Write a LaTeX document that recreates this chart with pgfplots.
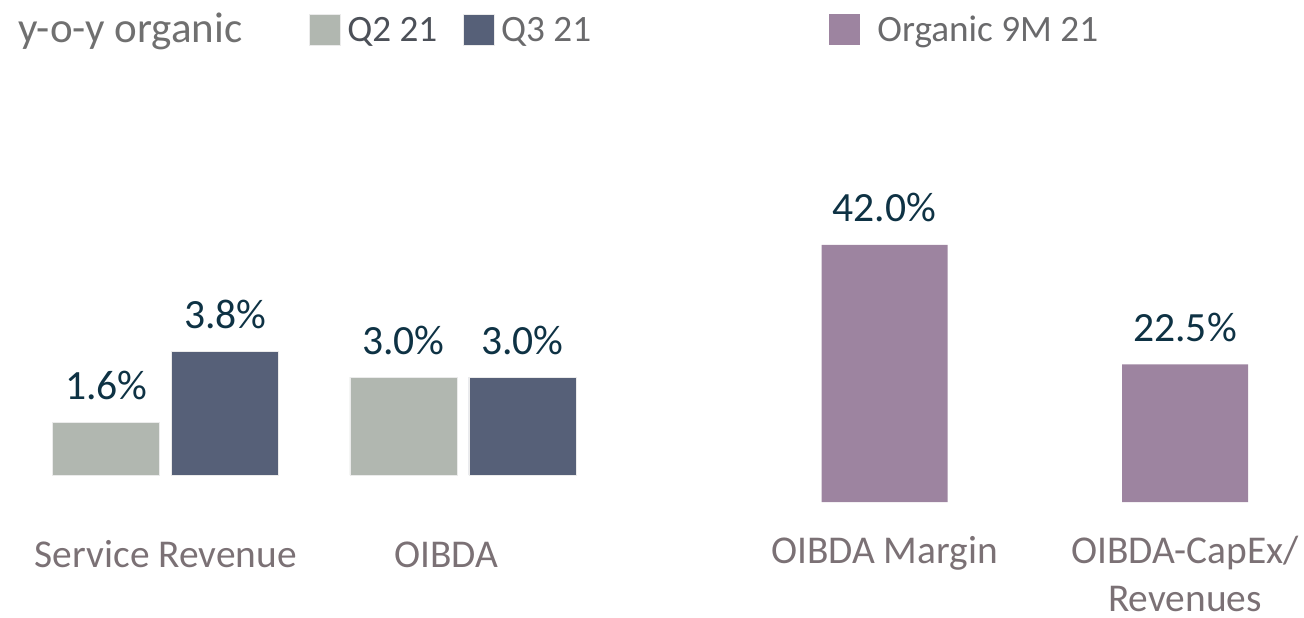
\documentclass[border=0pt]{standalone}
\usepackage{pgfplots}
\pgfplotsset{compat=1.18}
\usepackage{fontspec}
\setmainfont{Carlito}
\definecolor{qtwo}{HTML}{B1B7B0}
\definecolor{qthree}{HTML}{566078}
\definecolor{purp}{HTML}{9D84A0}
\definecolor{valtxt}{HTML}{0E3244}
\definecolor{cattxt}{HTML}{7B7175}
\definecolor{titletxt}{HTML}{707070}
\definecolor{legtxtA}{HTML}{4C5058}
\definecolor{legtxtB}{HTML}{6A6A6C}
\pgfplotsset{
  common/.style={
    scale only axis, axis line style={draw=none}, ymin=0, ytick=\empty,
    major tick length=0pt, clip=false,
    tick label style={font=\fontsize{19.7}{24}\selectfont, text=cattxt},
    xticklabel style={anchor=base, align=center, inner sep=0pt, outer sep=0pt},
    nodes near coords={\pgfmathprintnumber[fixed,fixed zerofill,precision=1,assume math mode=true]{\pgfplotspointmeta}\%},
    every node near coord/.append style={anchor=base, yshift=11.5pt, text=valtxt, font=\fontsize{20.8}{24}\selectfont},
    legend style={draw=none, fill=none, inner sep=0pt, legend columns=-1,
      font=\fontsize{18.6}{22}\selectfont, text=legtxtB,
      nodes={inner sep=0pt},
      /tikz/every even column/.append style={column sep=13pt},
      /tikz/every odd column/.append style={column sep=3pt}},
  },
  sq/.style={legend image code/.code={\fill[##1] (0pt,-7pt) rectangle (15.5pt,8.5pt);}},
}
\begin{document}
\begin{tikzpicture}
\useasboundingbox (0,0) rectangle (652pt,308.5pt);
\node[anchor=base west, text=titletxt, font=\fontsize{21.5}{25}\selectfont, inner sep=0pt] at (9pt,287pt) {y-o-y organic};
\begin{axis}[common, at={(8.56pt,71pt)}, anchor=south west,
  width=297.25pt, height=163pt, xmin=-0.5, xmax=1.5, ymax=10,
  ybar=6pt, bar width=53.5pt,
  xtick={0,0.943}, xticklabels={Service Revenue, OIBDA},
  xticklabel style={yshift=-46pt},
  legend style={at={(0.4911,1.366)}, anchor=west}]
\addplot[fill=qtwo, draw=black!8, line width=0.4pt, sq] coordinates {(0,1.6) (1,3.0)};
\addlegendentry[text=legtxtA]{Q2 21}
\addplot[fill=qthree, draw=black!8, line width=0.4pt, sq] coordinates {(0,3.8) (1,3.0)};
\addlegendentry[text=legtxtB]{Q3 21}
\end{axis}
\begin{axis}[common, at={(367.125pt,57.5pt)}, anchor=south west,
  width=270.45pt, height=153pt, xmin=-0.5, xmax=1.3, ymax=50,
  ybar=0pt, bar width=63pt,
  xtick={0,1}, xticklabels={{OIBDA Margin\\\mbox{}}, {OIBDA-CapEx/\\Revenues}},
  xticklabel style={yshift=-54.5pt, text depth=0pt},
  legend style={at={(0.1752,1.545)}, anchor=west,
    /tikz/every odd column/.append style={column sep=8.5pt}}]
\addplot[fill=purp, draw=none, sq] coordinates {(0,42.0) (1,22.5)};
\addlegendentry[text=legtxtB]{Organic 9M 21}
\end{axis}
\end{tikzpicture}
\end{document}
